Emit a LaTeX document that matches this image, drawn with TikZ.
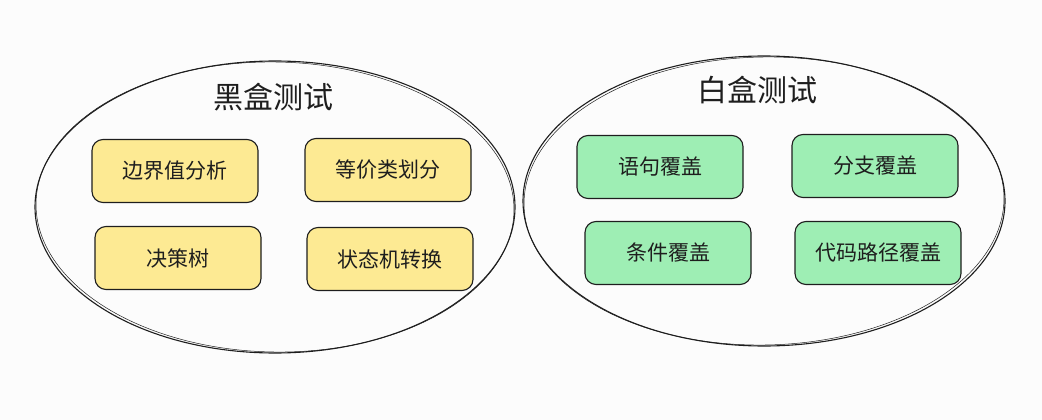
\documentclass[tikz,border=0pt]{standalone}
\usepackage{fontspec}
\newfontfamily\cjk{Noto Sans CJK SC}
\definecolor{bgc}{HTML}{FCFCFC}
\definecolor{ink}{HTML}{1E1E1E}
\definecolor{yel}{HTML}{FDEA93}
\definecolor{grn}{HTML}{9EEEB4}
\tikzset{
  grp/.style={draw=ink, line width=1.1pt},
  title/.style={font=\cjk\fontsize{30}{34}\selectfont, text=ink},
  item/.style={draw=ink, line width=1.1pt, rounded corners=11pt, minimum width=166pt, minimum height=63pt, inner sep=0pt, font=\cjk\fontsize{21}{24}\selectfont, text=ink},
  yitem/.style={item, fill=yel},
  gitem/.style={item, fill=grn}
}
\begin{document}
\begin{tikzpicture}[x=1pt,y=-1pt]
\fill[bgc] (0,0) rectangle (1042,420);
\useasboundingbox (0,0) rectangle (1042,420);
% groups
\draw[grp] (275,207) ellipse [x radius=240, y radius=146];
\draw[ink, line width=0.5pt, rotate around={-1:(275,207)}] (275,207) ellipse [x radius=239, y radius=145];
\draw[grp] (764,201) ellipse [x radius=241, y radius=145];
\draw[ink, line width=0.5pt, rotate around={1:(764,201)}] (764,201) ellipse [x radius=240, y radius=144];
\node[title] (tb) at (273,97) {黑盒测试};
\node[title] (tw) at (757,90) {白盒测试};
% black-box items
\node[yitem] (b1) at (175,171) {边界值分析};
\node[yitem] (b2) at (388,170) {等价类划分};
\node[yitem] (b3) at (178,258) {决策树};
\node[yitem] (b4) at (390,259) {状态机转换};
% white-box items
\node[gitem] (w1) at (660,167) {语句覆盖};
\node[gitem] (w2) at (875,166) {分支覆盖};
\node[gitem] (w3) at (668,253) {条件覆盖};
\node[gitem] (w4) at (878,253) {代码路径覆盖};
\end{tikzpicture}
\end{document}
